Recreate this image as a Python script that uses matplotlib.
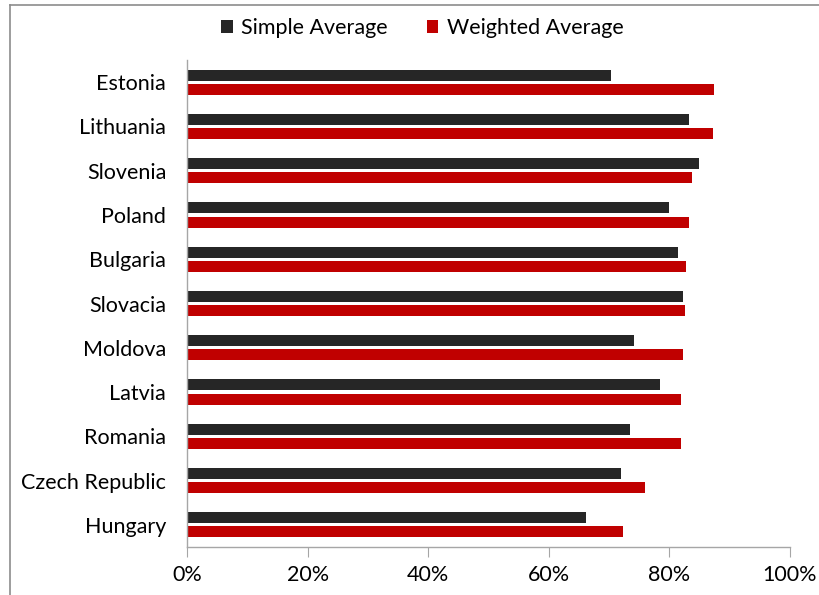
import matplotlib.pyplot as plt
import matplotlib.lines as mlines
import numpy as np
from matplotlib.ticker import PercentFormatter

plt.rcParams['font.family'] = ['Lato', 'DejaVu Sans']

countries = ['Estonia', 'Lithuania', 'Slovenia', 'Poland', 'Bulgaria', 'Slovacia',
             'Moldova', 'Latvia', 'Romania', 'Czech Republic', 'Hungary']
simple_avg = [70.3, 83.2, 84.9, 79.9, 81.4, 82.3, 74.2, 78.5, 73.5, 71.9, 66.1]
weighted_avg = [87.4, 87.3, 83.8, 83.2, 82.8, 82.6, 82.2, 82.0, 81.9, 76.0, 72.3]
xticks = [0, 20, 40, 60, 80, 100]

fig = plt.figure(figsize=(8.2, 5.95), dpi=100)
ax = fig.add_axes([187 / 820, 1 - 547 / 595, 603 / 820, 487 / 595])

y = np.arange(len(countries))
h = 0.25
ax.barh(y - 0.16, simple_avg, height=h, color='#262626', label='Simple Average')
ax.barh(y + 0.16, weighted_avg, height=h, color='#C00000', label='Weighted Average')

ax.set_ylim(len(countries) - 0.5, -0.5)
ax.set_xlim(0, 100)
ax.set_yticks(y)
ax.set_yticklabels(countries, fontsize=15.5)
ax.set_xticks(xticks)
ax.xaxis.set_major_formatter(PercentFormatter(decimals=0))
ax.tick_params(axis='x', labelsize=15.5, length=7, color='#A6A6A6', pad=6)
ax.tick_params(axis='y', length=0, pad=15)

for s in ['top', 'right']:
    ax.spines[s].set_visible(False)
for s in ['left', 'bottom']:
    ax.spines[s].set_color('#A6A6A6')
    ax.spines[s].set_linewidth(1)

fig.legend(loc='center', bbox_to_anchor=(0.515, 1 - 28 / 595), ncol=2, frameon=False,
           fontsize=15.5, handlelength=0.55, handleheight=0.55, handletextpad=0.4,
           columnspacing=1.8)

# outer border (top and left only visible)
fig.add_artist(mlines.Line2D([10.5 / 820, 1], [1 - 4.5 / 595, 1 - 4.5 / 595],
                             color='#8C8C8C', lw=1.2, transform=fig.transFigure))
fig.add_artist(mlines.Line2D([10.5 / 820, 10.5 / 820], [0, 1 - 4.5 / 595],
                             color='#8C8C8C', lw=1.2, transform=fig.transFigure))

fig.savefig('out.png', dpi=100)
